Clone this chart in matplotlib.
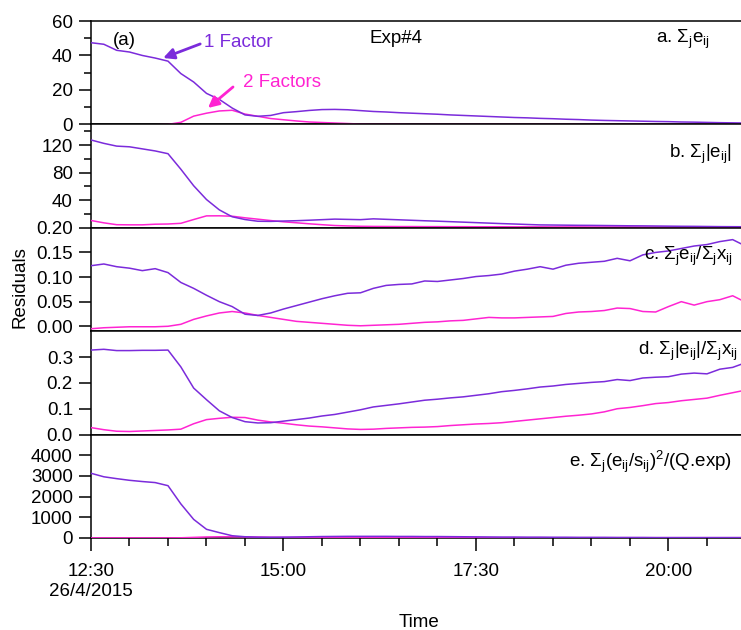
import numpy as np
import pandas as pd
import matplotlib
matplotlib.use("Agg")
import matplotlib.pyplot as plt
import matplotlib.dates as mdates
from matplotlib.ticker import MultipleLocator, FixedLocator, NullLocator

plt.rcParams["font.family"] = ["Liberation Sans", "DejaVu Sans"]
plt.rcParams["mathtext.fontset"] = "custom"
plt.rcParams["mathtext.rm"] = "Liberation Sans"
plt.rcParams["mathtext.it"] = "Liberation Sans"
plt.rcParams["mathtext.bf"] = "Liberation Sans:bold"
plt.rcParams["mathtext.default"] = "regular"

# ---- sample times (10-minute PMF residual records) ----
times = pd.date_range("2015-04-26 12:30", periods=52, freq="10min")

# ---- a. sum of residuals ----
a_one = [47.4, 46.5, 43.0, 42.0, 40.0, 38.5, 36.7, 29.5, 24.6, 18.0,
         14.5, 9.5, 5.5, 4.7, 5.2, 6.8, 7.4, 8.1, 8.6, 8.7,
         8.5, 8.0, 7.5, 7.2, 6.8, 6.5, 6.2, 5.9, 5.5, 5.2,
         4.9, 4.6, 4.3, 4.0, 3.8, 3.5, 3.3, 3.0, 2.8, 2.5,
         2.3, 2.15, 2.0, 1.85, 1.7, 1.6, 1.4, 1.3, 1.15, 1.0,
         0.9, 0.8]
a_two = [-0.3, -0.3, -0.3, -0.3, -0.2, -0.2, 0.0, 1.2, 4.8, 6.5,
         7.8, 8.2, 6.0, 4.7, 3.4, 2.7, 2.0, 1.4, 1.1, 0.8,
         0.5, 0.2, 0.1, 0.1, 0.1, 0.0, 0.0, 0.0, 0.0, 0.0,
         0.0, 0.0, 0.0, 0.0, 0.0, 0.0, 0.0, 0.0, 0.0, 0.0,
         0.0, 0.0, 0.0, 0.0, 0.0, 0.0, 0.0, 0.0, 0.0, 0.0,
         0.0, 0.0]

# ---- b. sum of absolute residuals ----
b_one = [127.4, 122.5, 118.5, 117.5, 114.5, 111.5, 107.5, 85, 61, 41,
         26, 16, 12, 9.5, 9.3, 9.8, 10.3, 11, 11.8, 12.6,
         12.2, 11.8, 13, 12.3, 11.6, 10.9, 10.2, 9.6, 8.9, 8.2,
         7.5, 6.8, 6.1, 5.5, 4.8, 4.2, 4.0, 3.8, 3.6, 3.5,
         3.3, 3.1, 2.9, 2.8, 2.6, 2.4, 2.2, 2.1, 1.9, 1.7,
         1.6, 1.5]
b_two = [10.6, 7.2, 4.5, 4.3, 4.3, 5.2, 5.5, 6.5, 12, 17.3,
         17.4, 16.8, 14.5, 12.5, 10.5, 8.7, 7.3, 5.8, 4.5, 3.3,
         2.7, 2.2, 2.0, 1.9, 1.8, 1.8, 1.7, 1.7, 1.6, 1.6,
         1.5, 1.5, 1.5, 1.4, 1.4, 1.4, 1.3, 1.3, 1.3, 1.2,
         1.2, 1.2, 1.2, 1.1, 1.1, 1.1, 1.1, 1.0, 1.0, 1.0,
         1.0, 1.0]

# ---- c. scaled residuals ----
c_one = [0.123, 0.1265, 0.121, 0.118, 0.113, 0.117, 0.109, 0.089, 0.077, 0.063,
         0.050, 0.040, 0.0245, 0.022, 0.027, 0.035, 0.042, 0.049, 0.056, 0.062,
         0.067, 0.068, 0.077, 0.083, 0.085, 0.086, 0.092, 0.091, 0.094, 0.097,
         0.101, 0.103, 0.106, 0.112, 0.116, 0.121, 0.116, 0.124, 0.128, 0.130,
         0.132, 0.138, 0.133, 0.145, 0.150, 0.153, 0.158, 0.163, 0.166, 0.172,
         0.176, 0.163]
c_two = [-0.005, -0.003, -0.002, -0.001, -0.001, -0.001, 0.0, 0.004, 0.014, 0.021,
         0.027, 0.030, 0.027, 0.022, 0.018, 0.014, 0.010, 0.008, 0.006, 0.004,
         0.002, 0.001, 0.002, 0.003, 0.004, 0.006, 0.008, 0.009, 0.011, 0.012,
         0.015, 0.018, 0.017, 0.017, 0.018, 0.019, 0.020, 0.026, 0.029, 0.030,
         0.032, 0.037, 0.036, 0.030, 0.029, 0.040, 0.050, 0.043, 0.050, 0.054,
         0.062, 0.049]

# ---- d. scaled absolute residuals ----
d_one = [0.327, 0.330, 0.325, 0.325, 0.326, 0.326, 0.327, 0.262, 0.180, 0.135,
         0.092, 0.066, 0.050, 0.045, 0.046, 0.052, 0.058, 0.064, 0.072, 0.078,
         0.087, 0.096, 0.107, 0.113, 0.119, 0.126, 0.133, 0.137, 0.142, 0.146,
         0.152, 0.158, 0.166, 0.171, 0.177, 0.184, 0.188, 0.194, 0.198, 0.202,
         0.205, 0.213, 0.209, 0.219, 0.222, 0.224, 0.234, 0.238, 0.235, 0.253,
         0.260, 0.278]
d_two = [0.027, 0.019, 0.013, 0.012, 0.014, 0.016, 0.018, 0.021, 0.042, 0.058,
         0.063, 0.067, 0.066, 0.056, 0.049, 0.044, 0.038, 0.033, 0.030, 0.026,
         0.022, 0.020, 0.021, 0.024, 0.026, 0.028, 0.029, 0.031, 0.035, 0.038,
         0.041, 0.043, 0.046, 0.051, 0.056, 0.061, 0.066, 0.071, 0.075, 0.080,
         0.088, 0.100, 0.105, 0.112, 0.120, 0.124, 0.131, 0.136, 0.141, 0.152,
         0.162, 0.172]

# ---- e. Q contribution ----
e_one = [3130, 2960, 2870, 2790, 2730, 2680, 2530, 1650, 900, 420,
         260, 110, 60, 40, 35, 40, 50, 60, 70, 75,
         80, 80, 80, 80, 75, 75, 70, 70, 65, 60,
         55, 50, 45, 45, 40, 40, 35, 35, 30, 30,
         30, 25, 25, 25, 20, 20, 20, 20, 20, 20,
         20, 20]
e_two = [5, 5, 5, 5, 5, 5, 5, 10, 30, 50,
         60, 60, 55, 45, 35, 30, 25, 20, 18, 15,
         15, 15, 15, 15, 15, 15, 15, 15, 15, 15,
         15, 15, 15, 15, 15, 15, 15, 15, 15, 15,
         15, 15, 15, 15, 15, 15, 15, 15, 15, 15,
         15, 15]

panel_titles = [r"a. $\Sigma_j e_{ij}$",
                r"b. $\Sigma_j|e_{ij}|$",
                r"c. $\Sigma_j e_{ij}/\Sigma_j x_{ij}$",
                r"d. $\Sigma_j|e_{ij}|/\Sigma_j x_{ij}$",
                r"e. $\Sigma_j(e_{ij}/s_{ij})^2$/(Q.exp)"]
title_pos = [(0.952, 0.79), (0.986, 0.675), (0.988, 0.689), (0.995, 0.77), (0.986, 0.687)]
ylims = [(0, 60), (0, 150), (-0.01, 0.20), (0, 0.4), (0, 5000)]
yticks = [[0, 20, 40, 60], [40, 80, 120], [0.0, 0.05, 0.10, 0.15, 0.20],
          [0.0, 0.1, 0.2, 0.3], [0, 1000, 2000, 3000, 4000]]
yticklabels = [["0", "20", "40", "60"], ["40", "80", "120"],
               ["0.00", "0.05", "0.10", "0.15", "0.20"],
               ["0.0", "0.1", "0.2", "0.3"], ["0", "1000", "2000", "3000", "4000"]]
yminor = [[10, 30, 50], [20, 60, 100, 140], [], [], []]

xtick_times = ["2015-04-26 12:30", "2015-04-26 15:00", "2015-04-26 17:30", "2015-04-26 20:00"]
xtick_labels = ["12:30\n26/4/2015", "15:00", "17:30", "20:00"]
x_start = "2015-04-26 12:30"
x_end = "2015-04-26 20:56:30"

purple = "#7B2BDB"
magenta = "#FF24D2"
fs = 13.5

one_series = [a_one, b_one, c_one, d_one, e_one]
two_series = [a_two, b_two, c_two, d_two, e_two]

fig, axes = plt.subplots(5, 1, sharex=True, figsize=(7.41, 6.30), dpi=100,
                         gridspec_kw=dict(hspace=0))
fig.subplots_adjust(left=91 / 741, right=1.0, top=1 - 21 / 630, bottom=1 - 538 / 630)

for i, ax in enumerate(axes):
    ax.plot(times, two_series[i], color=magenta, lw=1.1, zorder=3)
    ax.plot(times, one_series[i], color=purple, lw=1.1, zorder=3)
    ax.set_ylim(*ylims[i])
    ax.yaxis.set_major_locator(FixedLocator(yticks[i]))
    ax.set_yticklabels(yticklabels[i])
    ax.yaxis.set_minor_locator(FixedLocator(yminor[i]))
    ax.tick_params(axis="y", which="major", direction="out", length=9, width=1.1,
                   pad=4, labelsize=fs)
    ax.tick_params(axis="y", which="minor", direction="out", length=5, width=1.1)
    ax.spines["right"].set_visible(False)
    for s in ("left", "top", "bottom"):
        ax.spines[s].set_linewidth(1.1)
    ax.text(*title_pos[i], panel_titles[i], transform=ax.transAxes, ha="right",
            va="baseline", fontsize=fs)
    if i < 4:
        ax.tick_params(axis="x", which="both", bottom=False, labelbottom=False)

ax_e = axes[-1]
ax_e.set_xlim(pd.Timestamp(x_start), pd.Timestamp(x_end))
ax_e.xaxis.set_major_locator(FixedLocator(mdates.date2num(pd.to_datetime(xtick_times))))
ax_e.set_xticklabels(xtick_labels)
ax_e.xaxis.set_minor_locator(mdates.MinuteLocator(byminute=[0, 30]))
ax_e.tick_params(axis="x", which="major", direction="out", length=9, width=1.1,
                 pad=9, labelsize=fs)
ax_e.tick_params(axis="x", which="minor", direction="out", length=6, width=1.1)

# annotations in the top panel
ax_a = axes[0]
ax_a.text(0.034, 0.768, "(a)", transform=ax_a.transAxes, fontsize=fs, va="baseline")
ax_a.text(0.428, 0.79, "Exp#4", transform=ax_a.transAxes, fontsize=fs, va="baseline")
ax_a.text(0.174, 0.749, "1 Factor", transform=ax_a.transAxes, fontsize=fs,
          va="baseline", color=purple)
ax_a.text(0.234, 0.362, "2 Factors", transform=ax_a.transAxes, fontsize=fs,
          va="baseline", color=magenta)
ax_a.annotate("", xy=(0.111, 0.642), xytext=(0.168, 0.778),
              xycoords="axes fraction", textcoords="axes fraction",
              arrowprops=dict(arrowstyle="-|>", color=purple, lw=2,
                              mutation_scale=16, shrinkA=0, shrinkB=0))
ax_a.annotate("", xy=(0.18, 0.159), xytext=(0.2185, 0.362),
              xycoords="axes fraction", textcoords="axes fraction",
              arrowprops=dict(arrowstyle="-|>", color=magenta, lw=2,
                              mutation_scale=16, shrinkA=0, shrinkB=0))

fig.text(20 / 741, 1 - 287 / 630, "Residuals", rotation=90, ha="center",
         va="center", fontsize=fs)
fig.text(419 / 741, 1 - 627 / 630, "Time", ha="center", va="baseline", fontsize=fs)

fig.savefig("out.png", dpi=100)
